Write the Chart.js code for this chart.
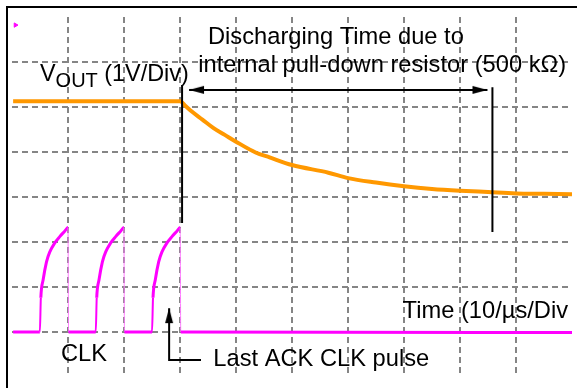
<!DOCTYPE html>
<html>
<head>
<meta charset="utf-8">
<script src="https://cdn.jsdelivr.net/npm/chart.js@4/dist/chart.umd.min.js"></script>
<style>
  body { margin: 0; background: #fff; }
  #wrap { position: relative; width: 577px; height: 388px; overflow: hidden; }
  #frame { position: absolute; left: 6px; top: 6px; right: -4px; bottom: -4px; border-left: 2px solid #000; border-top: 2px solid #000; }
  #scope { position: absolute; left: 0; top: 0; }
</style>
</head>
<body>
<div id="wrap">
  <div id="frame"></div>
  <canvas id="scope" width="577" height="388"></canvas>
</div>
<script>
// time in µs (10 µs/div), level in screen divisions (0 = bottom line, 8 = top)
const voutTime  = [0.2, 30.0, 31.0, 32.0, 34.0, 36.0, 38.0, 40.0, 43.5, 46.0, 50.0, 56.5, 60.0, 65.0, 70.0, 75.0, 80.0, 85.0, 90.0, 95.0, 100.0];
const voutLevel = [6.13, 6.13, 6.02, 5.91, 5.72, 5.53, 5.38, 5.23, 4.99, 4.88, 4.71, 4.54, 4.42, 4.32, 4.24, 4.18, 4.14, 4.11, 4.08, 4.07, 4.06];

const clkTime = [
  0.2,
  4.97, 5.15, 5.56, 6.16, 6.75, 7.64, 8.53, 9.41, 10.0, 10.1,
  14.95, 15.13, 15.54, 16.14, 16.73, 17.62, 18.51, 19.39, 19.98, 20.08,
  25.0, 25.18, 25.59, 26.19, 26.78, 27.67, 28.56, 29.44, 30.03, 30.13,
  100.0
];
const clkLevel = [
  1.0,
  1.0, 1.76, 2.16, 2.56, 2.78, 2.98, 3.12, 3.24, 3.32, 1.0,
  1.0, 1.76, 2.16, 2.56, 2.78, 2.98, 3.12, 3.24, 3.32, 1.0,
  1.0, 1.76, 2.16, 2.56, 2.78, 2.98, 3.12, 3.24, 3.32, 1.0,
  0.99
];

const timeTicks  = [0, 10, 20, 30, 40, 50, 60, 70, 80, 90, 100];
const levelTicks = [0, 1, 2, 3, 4, 5, 6, 7, 8];

// marker lines: discharge window and the last-pulse pointer
const windowStart = [[30.37, 6.49], [30.37, 3.42]];
const windowEnd   = [[85.79, 6.44], [85.79, 3.22]];
const windowSpan  = [[31.62, 6.38], [84.9, 6.38]];
const ackPointer  = [[28.06, 1.53], [28.06, 0.38], [33.75, 0.38]];
const arrowTips   = [[31.62, 6.38], [84.9, 6.38], [28.06, 1.53]];
const tipTurn     = [180, 0, -90];

const toPoints = (xs, ys) => xs.map((x, i) => ({x: x, y: ys[i]}));
const pairs = (list) => list.map((p) => ({x: p[0], y: p[1]}));

// arrowhead drawn pointing right with its tip at the image centre
const arrowHead = document.createElement('canvas');
arrowHead.width = 32;
arrowHead.height = 10;
(function () {
  const c = arrowHead.getContext('2d');
  c.fillStyle = '#000';
  c.beginPath();
  c.moveTo(16, 5);
  c.lineTo(1, 1);
  c.lineTo(1, 9);
  c.closePath();
  c.fill();
})();

const FONT = '"Liberation Sans", Arial, sans-serif';
const notes = [
  {parts: [['Discharging Time due to', 23.7, 0]], t: 35.0, v: 7.40},
  {parts: [['internal pull-down resistor (500 k\u03A9)', 23.7, 0]], t: 33.25, v: 6.78},
  {parts: [['V', 23.4, 0], ['OUT', 20, 6.5], [' (1V/Div)', 23.4, 0]], t: 5.0, v: 6.58},
  {parts: [['Time (10/\u00B5s/Div', 23.7, 0]], t: 69.75, v: 1.31},
  {parts: [['CLK', 23.7, 0]], t: 8.75, v: 0.356},
  {parts: [['Last ACK CLK pulse', 23.7, 0]], t: 35.95, v: 0.244}
];

const notesPlugin = {
  id: 'notes',
  afterDatasetsDraw(chart) {
    const ctx = chart.ctx;
    const xs = chart.scales.x, ys = chart.scales.y;
    ctx.save();
    ctx.fillStyle = '#000';
    ctx.textBaseline = 'alphabetic';
    ctx.textAlign = 'left';
    notes.forEach((n) => {
      let x = xs.getPixelForValue(n.t);
      const y = ys.getPixelForValue(n.v);
      n.parts.forEach((p) => {
        ctx.font = p[1] + 'px ' + FONT;
        ctx.fillText(p[0], x, y + p[2]);
        x += ctx.measureText(p[0]).width;
      });
    });
    ctx.restore();
  }
};

const blackLine = (pts) => ({
  data: pairs(pts),
  borderColor: '#000',
  borderWidth: 2,
  pointRadius: 0,
  tension: 0
});

const edgeHidden = (min, max) => (ctx) => {
  const v = ctx.tick && ctx.tick.value;
  return (v === min || v === max) ? 'rgba(0,0,0,0)' : '#858585';
};

new Chart(document.getElementById('scope'), {
  type: 'line',
  data: {
    datasets: [
      {
        data: pairs(arrowTips),
        showLine: false,
        pointStyle: arrowHead,
        pointRadius: 4,
        rotation: tipTurn
      },
      blackLine(windowStart),
      blackLine(windowEnd),
      blackLine(windowSpan),
      blackLine(ackPointer),
      {
        data: [{x: 0.62, y: 7.82}],
        showLine: false,
        pointStyle: 'triangle',
        pointRadius: 2.5,
        rotation: 90,
        backgroundColor: '#ff00ff',
        borderColor: '#ff00ff',
        borderWidth: 1
      },
      {
        label: 'VOUT',
        data: toPoints(voutTime, voutLevel),
        borderColor: '#ff9800',
        borderWidth: 4,
        pointRadius: 0,
        cubicInterpolationMode: 'monotone'
      },
      {
        label: 'CLK',
        data: toPoints(clkTime, clkLevel),
        borderColor: '#ff00ff',
        borderWidth: 3,
        pointRadius: 0,
        cubicInterpolationMode: 'monotone',
        segment: {
          borderWidth: (ctx) => {
            const dy = ctx.p1.parsed.y - ctx.p0.parsed.y;
            if (dy < -0.5) return 1;
            if (dy > 0.5) return 2;
            return undefined;
          },
          borderColor: (ctx) => (ctx.p1.parsed.y - ctx.p0.parsed.y < -0.5) ? '#ff7cff' : undefined
        }
      }
    ]
  },
  options: {
    responsive: false,
    animation: false,
    layout: { padding: { left: 12, right: 2, top: 17, bottom: 11 } },
    plugins: { legend: { display: false }, tooltip: { enabled: false } },
    scales: {
      x: {
        type: 'linear',
        min: timeTicks[0],
        max: timeTicks[timeTicks.length - 1],
        afterBuildTicks: (scale) => { scale.ticks = timeTicks.map((v) => ({value: v})); },
        afterFit: (scale) => { scale.height = 0; },
        ticks: { display: false },
        grid: { color: edgeHidden(0, 100), lineWidth: 2, drawTicks: false },
        border: { display: false, dash: [6, 4] }
      },
      y: {
        type: 'linear',
        min: levelTicks[0],
        max: levelTicks[levelTicks.length - 1],
        afterBuildTicks: (scale) => { scale.ticks = levelTicks.map((v) => ({value: v})); },
        afterFit: (scale) => { scale.width = 0; },
        ticks: { display: false },
        grid: { color: edgeHidden(0, 8), lineWidth: 2, drawTicks: false },
        border: { display: false, dash: [6, 4] }
      }
    }
  },
  plugins: [notesPlugin]
});
</script>
</body>
</html>
